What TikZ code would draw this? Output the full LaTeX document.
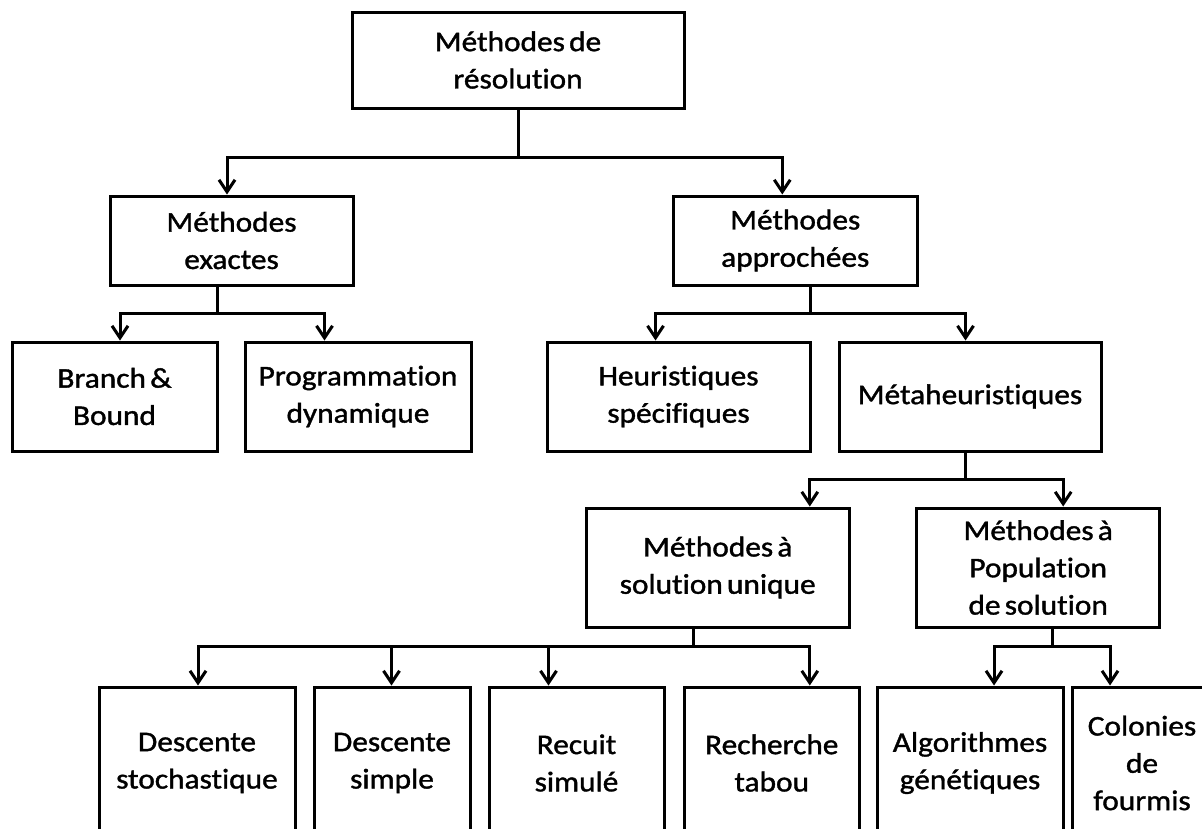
\documentclass[tikz,border=0pt]{standalone}
\usepackage{fontspec}
\setmainfont{Carlito}[FakeStretch=1.1, FakeBold=1.3, WordSpace=0.6, RawFeature={-liga;-clig;-dlig}]
\usetikzlibrary{arrows.meta}
\newcommand\tii{t\kern0pt i}
\newcommand\fii{f\kern0pt i}
\begin{document}
\begin{tikzpicture}[x=1pt,y=-1pt,
  box/.style={draw, line width=3pt, inner sep=0pt, align=center, font=\fontsize{28.5}{37.3}\selectfont},
  conn/.style={line width=3pt},
  arr/.style={conn, -{Straight Barb[length=12pt,width=16pt]}}]
\useasboundingbox (0,0) rectangle (1202,828);
\clip (0,0) rectangle (1202,828);
\fill[white] (0,0) rectangle (1202,828);

% nodes
\node[box, minimum width=332, minimum height=96] (top) at (518,60) {Méthodes de\\résolu\tii{}on};
\node[box, minimum width=243, minimum height=89] (exactes) at (231.5,240.5) {Méthodes\\exactes};
\node[box, minimum width=243.5, minimum height=89] (approchees) at (795.25,240.5) {Méthodes\\approchées};
\node[box, minimum width=205, minimum height=109] (branch) at (114.5,396.5) {Branch \&\\Bound};
\node[box, minimum width=226, minimum height=109] (prog) at (358,396.5) {Programma\tii{}on\\dynamique};
\node[box, minimum width=263, minimum height=109] (heur) at (678.5,396.5) {Heuris\tii{}ques\\spéci\fii{}ques};
\node[box, minimum width=262, minimum height=109] (meta) at (970,396.5) {Métaheuris\tii{}ques};
\node[box, minimum width=263.5, minimum height=119] (unique) at (717.75,567.5) {Méthodes à\\solu\tii{}on unique};
\node[box, minimum width=242.5, minimum height=119] (pop) at (1038.2,567.5) {Méthodes à\\Popula\tii{}on\\de solu\tii{}on};
\node[box, minimum width=196, minimum height=152] (desc1) at (197,763) {Descente\\stochas\tii{}que};
\node[box, minimum width=156, minimum height=152] (desc2) at (392,763) {Descente\\simple};
\node[box, minimum width=175, minimum height=152] (recuit) at (576.5,763) {Recuit\\simulé};
\node[box, minimum width=175.5, minimum height=152] (recherche) at (771.75,763) {Recherche\\tabou};
\node[box, minimum width=186, minimum height=152] (algo) at (970,763) {Algorithmes\\généti\-ques};
\node[box, minimum width=140, minimum height=152] (colonies) at (1142,763) {Colonies\\de\\fourmis};

% junctions
\coordinate (j1) at (518,157);
\coordinate (j2) at (217,313);
\coordinate (j3) at (810,313);
\coordinate (j4) at (965,479);
\coordinate (j5) at (693.5,646);
\coordinate (j6) at (1052.7,646);

% connectors
\draw[conn] (top.south -| j1) -- (j1);
\draw[arr] (j1) -| ([xshift=-4.5]exactes.north);
\draw[arr] (j1) -| ([xshift=-13]approchees.north);

\draw[conn] (exactes.south -| j2) -- (j2);
\draw[arr] (j2) -| ([xshift=5.5]branch.north);
\draw[arr] (j2) -| ([xshift=-33.5]prog.north);

\draw[conn] (approchees.south -| j3) -- (j3);
\draw[arr] (j3) -| ([xshift=-23]heur.north);
\draw[arr] (j3) -| ([xshift=-4.5]meta.north);

\draw[conn] (meta.south -| j4) -- (j4);
\draw[arr] (j4) -| ([xshift=92]unique.north);
\draw[arr] (j4) -| ([xshift=25]pop.north);

\draw[conn] (unique.south -| j5) -- (j5);
\draw[arr] (j5) -| ([xshift=1]desc1.north);
\draw[arr] (j5) -| ([xshift=-0.5]desc2.north);
\draw[arr] (j5) -| ([xshift=-28]recuit.north);
\draw[arr] (j5) -| ([xshift=38]recherche.north);

\draw[conn] (pop.south -| j6) -- (j6);
\draw[arr] (j6) -| ([xshift=24]algo.north);
\draw[arr] (j6) -| ([xshift=-32]colonies.north);
\end{tikzpicture}
\end{document}
